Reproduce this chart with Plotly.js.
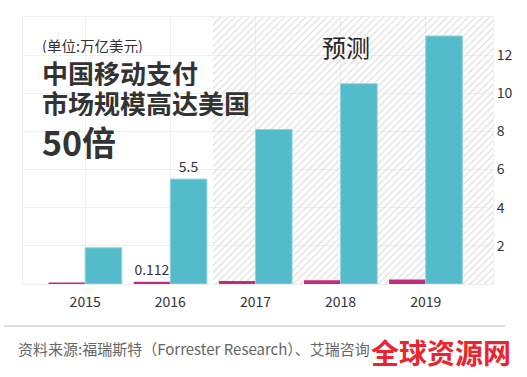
<!DOCTYPE html>
<html>
<head>
<meta charset="utf-8">
<script src="https://cdn.plot.ly/plotly-3.0.1.min.js"></script>
<style>
html,body{margin:0;padding:0;background:#fff;}
#chart{width:527px;height:377px;}
</style>
</head>
<body>
<div id="chart"></div>
<script>
// ---- data ----
const years = ['2015', '2016', '2017', '2018', '2019'];
const chinaValues = [1.9, 5.5, 8.1, 10.5, 13.0];   // 万亿美元, China
const usValues = [0.08, 0.112, 0.16, 0.2, 0.24];    // 万亿美元, US
const chinaLabels = ['', '5.5', '', '', ''];
const usLabels = ['', '0.112', '', '', ''];
const yTickValues = [2, 4, 6, 8, 10, 12, 14];
const yTickLabels = ['2', '4', '6', '8', '10', '12', ''];
const forecastFrom = '2017';

const FONT = '"Noto Sans CJK SC", "Noto Sans", sans-serif';
const W = 527, H = 377;
const M = {l: 23, r: 34, t: 17, b: 93};
const pw = W - M.l - M.r, ph = H - M.t - M.b;
const xRange = [-0.73, 4.79];
const yRange = [0, 14];
const px = x => (x - M.l) / pw;
const py = y => (H - M.b - y) / ph;

const idx = years.map((_, i) => i);
const fStart = years.indexOf(forecastFrom) - 0.5;

const data = [
  {
    type: 'scatter', mode: 'none', hoverinfo: 'skip', showlegend: false,
    xaxis: 'x', yaxis: 'y',
    x: [fStart, fStart, xRange[1], xRange[1], fStart],
    y: [yRange[0], yRange[1], yRange[1], yRange[0], yRange[0]],
    fill: 'toself', fillcolor: 'rgba(255,255,255,0)',
    fillpattern: {shape: '/', fgcolor: '#dcdcdc', bgcolor: 'rgba(255,255,255,0)', size: 5, solidity: 0.22}
  },
  {
    type: 'bar', name: '美国', x: idx, y: usValues, xaxis: 'x2', yaxis: 'y2',
    marker: {color: '#bf2d7c'},
    text: usLabels, textposition: 'outside', cliponaxis: false,
    textfont: {family: FONT, size: 14, color: '#333'}
  },
  {
    type: 'bar', name: '中国', x: idx, y: chinaValues, xaxis: 'x2', yaxis: 'y2',
    marker: {color: '#53bbc9', line: {color: '#8fd3dc', width: 1}},
    text: chinaLabels, textposition: 'outside', cliponaxis: false,
    textfont: {family: FONT, size: 14, color: '#333'}
  }
];

const layout = {
  width: W, height: H,
  margin: M,
  paper_bgcolor: '#fff', plot_bgcolor: '#fff',
  showlegend: false,
  barmode: 'group', bargap: 0.14, bargroupgap: 0,
  font: {family: FONT, size: 14, color: '#333'},
  xaxis: {
    type: 'linear', range: xRange, tickmode: 'array', tickvals: idx, ticktext: years,
    showgrid: true, gridcolor: '#efefef', gridwidth: 1, zeroline: false,
    showline: true, mirror: true, linecolor: '#efefef', linewidth: 1,
    ticks: '', ticklabelstandoff: 5, tickfont: {family: FONT, size: 14, color: '#333'}, fixedrange: true
  },
  yaxis: {
    side: 'right', range: yRange, tickmode: 'array', tickvals: yTickValues, ticktext: yTickLabels,
    showgrid: true, gridcolor: '#efefef', gridwidth: 1, zeroline: false,
    showline: true, mirror: true, linecolor: '#efefef', linewidth: 1,
    ticks: '', tickfont: {family: FONT, size: 14, color: '#333'}, fixedrange: true
  },
  xaxis2: {
    type: 'linear', overlaying: 'x', range: xRange, visible: false, showgrid: false, zeroline: false, fixedrange: true
  },
  yaxis2: {
    overlaying: 'y', side: 'right', range: yRange, visible: false, showgrid: false, zeroline: false, fixedrange: true
  },
  shapes: [
    {type: 'line', xref: 'paper', yref: 'paper', x0: px(4), x1: px(505), y0: py(326), y1: py(326),
     line: {color: '#dddddd', width: 2}}
  ],
  annotations: [
    {xref: 'paper', yref: 'paper', x: px(40), y: py(45), xanchor: 'left', yanchor: 'middle', showarrow: false,
     height: 16, text: '(单位:万亿美元)', font: {family: FONT, size: 14.5, color: '#333'}},
    {xref: 'paper', yref: 'paper', x: px(40), y: py(72), xanchor: 'left', yanchor: 'middle', showarrow: false,
     height: 28, text: '<b>中国移动支付</b>', font: {family: FONT, size: 26, color: '#333'}},
    {xref: 'paper', yref: 'paper', x: px(40), y: py(102), xanchor: 'left', yanchor: 'middle', showarrow: false,
     height: 28, text: '<b>市场规模高达美国</b>', font: {family: FONT, size: 26, color: '#333'}},
    {xref: 'paper', yref: 'paper', x: px(40), y: py(141), xanchor: 'left', yanchor: 'middle', showarrow: false,
     height: 36, text: '<b>50倍</b>', font: {family: FONT, size: 34, color: '#333'}},
    {xref: 'paper', yref: 'paper', x: px(346), y: py(46), xanchor: 'center', yanchor: 'middle', showarrow: false,
     text: '预测', font: {family: FONT, size: 24, color: '#222'}},
    {xref: 'paper', yref: 'paper', x: px(16), y: py(348), xanchor: 'left', yanchor: 'middle', showarrow: false,
     text: '资料来源:福瑞斯特（Forrester Research）、艾瑞咨询', font: {family: FONT, size: 15, color: '#666'}},
    {xref: 'paper', yref: 'paper', x: px(369), y: py(352), xanchor: 'left', yanchor: 'middle', showarrow: false,
     text: '<b>全球资源网</b>', font: {family: FONT, size: 28, color: '#e8262f'}}
  ]
};

Plotly.newPlot('chart', data, layout, {staticPlot: true, displayModeBar: false});
</script>
</body>
</html>
